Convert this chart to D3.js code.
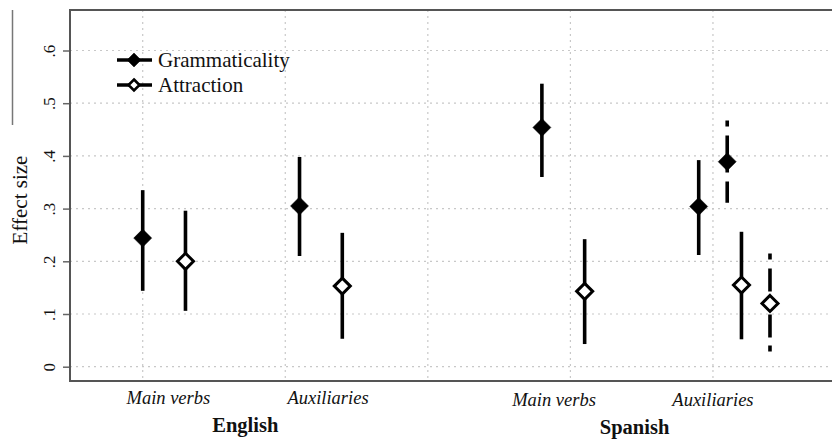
<!DOCTYPE html>
<html>
<head>
<meta charset="utf-8">
<script src="https://cdn.jsdelivr.net/npm/d3@7/dist/d3.min.js"></script>
<style>
  html, body { margin: 0; padding: 0; background: #fff; }
  svg { display: block; }
</style>
</head>
<body>
<svg id="chart" width="832" height="440"></svg>
<script>
// ---- data ----
const yTicks = [0, 0.1, 0.2, 0.3, 0.4, 0.5, 0.6];
const yTickLabels = ["0", ".1", ".2", ".3", ".4", ".5", ".6"];
const xGrid = [1, 2, 3, 4, 5];

const categories = ["Main verbs", "Auxiliaries", "Main verbs", "Auxiliaries"];
const categoryX = [1.18, 2.3, 3.885, 5.0];
const languages = ["English", "Spanish"];
const languageX = [1.72, 4.45];

const seriesNames = ["Grammaticality", "Attraction"];

const grammX = [1.0, 2.1, 3.8, 4.9];
const grammEst = [0.244, 0.305, 0.454, 0.304];
const grammLo = [0.144, 0.210, 0.360, 0.212];
const grammHi = [0.335, 0.398, 0.537, 0.392];

const attrX = [1.3, 2.4, 4.1, 5.2];
const attrEst = [0.200, 0.153, 0.143, 0.155];
const attrLo = [0.106, 0.053, 0.043, 0.052];
const attrHi = [0.296, 0.254, 0.242, 0.256];

// dashed (second estimate, Spanish auxiliaries)
const grammDashX = [5.1];
const grammDashEst = [0.389];
const grammDashLo = [0.311];
const grammDashHi = [0.467];

const attrDashX = [5.4];
const attrDashEst = [0.120];
const attrDashLo = [0.029];
const attrDashHi = [0.215];

// ---- layout ----
const SERIF = "'Liberation Serif', 'Times New Roman', 'DejaVu Serif', serif";
const svg = d3.select("#chart");
const plot = { left: 70, top: 10, right: 832, bottom: 381 };

const x = d3.scaleLinear().domain([0.49, 5.835]).range([plot.left, plot.right]);
const y = d3.scaleLinear().domain([0, 0.6]).range([366.7, 50.5]);

const gridColor = "#c8c8c8";

// outer left line
svg.append("line")
  .attr("x1", 12.5).attr("x2", 12.5).attr("y1", 10).attr("y2", 125)
  .attr("stroke", "#777").attr("stroke-width", 1.5);

// horizontal gridlines
svg.append("g").selectAll("line").data(yTicks).join("line")
  .attr("x1", plot.left).attr("x2", plot.right)
  .attr("y1", d => y(d)).attr("y2", d => y(d))
  .attr("stroke", gridColor).attr("stroke-width", 1.2)
  .attr("stroke-dasharray", "2,4");

// vertical gridlines
svg.append("g").selectAll("line").data(xGrid).join("line")
  .attr("x1", d => x(d)).attr("x2", d => x(d))
  .attr("y1", plot.top).attr("y2", plot.bottom)
  .attr("stroke", gridColor).attr("stroke-width", 1.2)
  .attr("stroke-dasharray", "2,4");

// y axis using d3 axis
const yAxis = d3.axisLeft(y).tickValues(yTicks)
  .tickFormat((d, i) => yTickLabels[i]).tickSize(7).tickPadding(0);
const gy = svg.append("g").attr("transform", `translate(${plot.left},0)`).call(yAxis);
gy.attr("font-family", null).attr("font-size", null);
gy.select(".domain").remove();
gy.selectAll(".tick line").attr("stroke", "#666").attr("stroke-width", 1.5);
gy.selectAll(".tick text")
  .attr("x", null).attr("dy", null)
  .attr("text-anchor", "middle")
  .attr("transform", "translate(-15,0) rotate(-90)")
  .style("font-family", SERIF)
  .style("font-size", "17px")
  .style("fill", "#111");

// frame (left, top, bottom)
svg.append("path")
  .attr("d", `M${plot.right},${plot.top}H${plot.left}V${plot.bottom}H${plot.right}`)
  .attr("fill", "none").attr("stroke", "#555").attr("stroke-width", 2);

// y title
svg.append("text")
  .attr("transform", `translate(27,200) rotate(-90)`)
  .attr("text-anchor", "middle")
  .style("font-family", SERIF)
  .style("font-size", "21px")
  .style("fill", "#111")
  .text("Effect size");

// category labels
svg.append("g").selectAll("text").data(categories).join("text")
  .attr("x", (d, i) => x(categoryX[i]))
  .attr("y", (d, i) => i < 2 ? 404 : 406)
  .attr("text-anchor", "middle")
  .style("font-family", SERIF)
  .style("font-style", "italic")
  .style("font-size", "18.5px")
  .style("fill", "#111")
  .text(d => d);

svg.append("g").selectAll("text").data(languages).join("text")
  .attr("x", (d, i) => x(languageX[i]))
  .attr("y", (d, i) => i === 0 ? 431.5 : 434)
  .attr("text-anchor", "middle")
  .style("font-family", SERIF)
  .style("font-weight", "bold")
  .style("font-size", "20.5px")
  .style("fill", "#111")
  .text(d => d);

// markers
const diamond = r => `M0,${-r}L${r},0L0,${r}L${-r},0Z`;

function drawSeries(xs, est, lo, hi, filled, dashed) {
  const g = svg.append("g");
  const idx = d3.range(xs.length);
  g.selectAll("line.ci").data(idx).join("line")
    .attr("class", "ci")
    .attr("x1", i => x(xs[i])).attr("x2", i => x(xs[i]))
    .attr("y1", i => y(hi[i])).attr("y2", i => y(lo[i]))
    .attr("stroke", "#000").attr("stroke-width", 3.6)
    .attr("stroke-dasharray", dashed ? "6,9,23,8" : null);
  g.selectAll("path.pt").data(idx).join("path")
    .attr("class", "pt")
    .attr("transform", i => `translate(${x(xs[i])},${y(est[i])})`)
    .attr("d", filled ? diamond(9) : diamond(8))
    .attr("fill", filled ? "#000" : "#fff")
    .attr("stroke", "#000")
    .attr("stroke-width", filled ? 0.5 : 3)
    .attr("stroke-linejoin", "miter");
}

drawSeries(grammX, grammEst, grammLo, grammHi, true, false);
drawSeries(attrX, attrEst, attrLo, attrHi, false, false);
drawSeries(grammDashX, grammDashEst, grammDashLo, grammDashHi, true, true);
drawSeries(attrDashX, attrDashEst, attrDashLo, attrDashHi, false, true);

// legend
const legend = svg.append("g");
const legendY = [60, 85];
seriesNames.forEach((name, i) => {
  legend.append("line")
    .attr("x1", 117).attr("x2", 152)
    .attr("y1", legendY[i]).attr("y2", legendY[i])
    .attr("stroke", "#000").attr("stroke-width", 3.6);
  legend.append("path")
    .attr("transform", `translate(134,${legendY[i]})`)
    .attr("d", i === 0 ? diamond(7) : diamond(5.5))
    .attr("fill", i === 0 ? "#000" : "#fff")
    .attr("stroke", "#000").attr("stroke-width", i === 0 ? 0.5 : 2.6);
  legend.append("text")
    .attr("x", 158).attr("y", legendY[i] + 7)
    .style("font-family", SERIF)
    .style("font-size", "21px")
    .style("fill", "#111")
    .text(name);
});
</script>
</body>
</html>
